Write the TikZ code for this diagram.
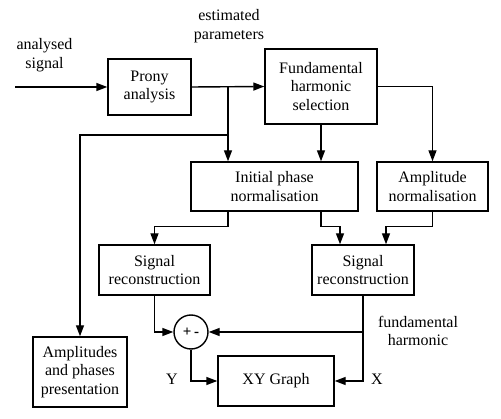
\documentclass[tikz,border=0pt]{standalone}
\usepackage{fontspec}
\setmainfont{Liberation Serif}
\newfontfamily\diagfont{Liberation Serif}
\usetikzlibrary{arrows.meta,calc}
\begin{document}
\begin{tikzpicture}[x=1pt,y=-1pt,
  line width=1.4pt,
  every node/.style={font=\diagfont\fontsize{16}{18.5}\selectfont, align=center, inner sep=0pt},
  blk/.style={draw, minimum width=#1},
  conn/.style={-{Triangle[length=11pt,width=8pt]}},
]
\useasboundingbox (0,0) rectangle (501,419);
\node[blk=83, minimum height=56] (prony) at (149.5,87) {Prony\\analysis};
\node[blk=112, minimum height=75] (fund) at (321,86.5) {Fundamental\\harmonic\\selection};
\node[blk=167, minimum height=49] (init) at (274.5,186.5) {Initial phase\\normalisation};
\node[blk=111, minimum height=49] (ampn) at (432.5,186.5) {Amplitude\\normalisation};
\node[blk=111, minimum height=50] (srl) at (154.5,270) {Signal\\reconstruction};
\node[blk=102, minimum height=50] (srr) at (363,270) {Signal\\reconstruction};
\node[draw, circle, minimum size=34, font=\diagfont\fontsize{15}{16}\selectfont\bfseries] (sum) at (191,332) {+\,-};
\node[blk=116, minimum height=50] (xy) at (276,381) {XY Graph};
\node[blk=94, minimum height=70] (amps) at (80,372) {Amplitudes\\and phases\\presentation};

\node (lin) at (44.5,55) {analysed\\signal};
\node (lest) at (229,26) {estimated\\parameters};
\node (lfund) at (418,331) {fundamental\\harmonic};
\node (ly) at (172,379) {Y};
\node (lx) at (377,379) {X};

\coordinate (in) at (15,87);
\coordinate (j1) at (228,87);
\coordinate (k) at (80,135);

\draw[conn] (in) -- (prony.west);
\draw[conn] (prony.east) -- (fund.west);
\draw[conn] (j1) -- (j1 |- init.north);
\draw[conn] (j1 |- k) -- (k) -- (amps.north);
\draw[conn] (fund.east) -| (ampn.north);
\draw[conn] (fund.south) -- (fund.south |- init.north);
\draw[conn] (init.south -| j1) -- ++(0,15) -| (srl.north);
\draw[conn] (init.south -| fund.south) -- ++(0,15) -| ($(srr.north)+(-23,0)$);
\draw[conn] (ampn.south) -- ++(0,15) -| ($(srr.north)+(23,0)$);
\draw[conn] (srl.south) |- (sum.west);
\draw[conn] (srr.south) |- (sum.east);
\draw[conn] (srr.south) |- (xy.east);
\draw[conn] (sum.south) |- (xy.west);
\end{tikzpicture}
\end{document}
